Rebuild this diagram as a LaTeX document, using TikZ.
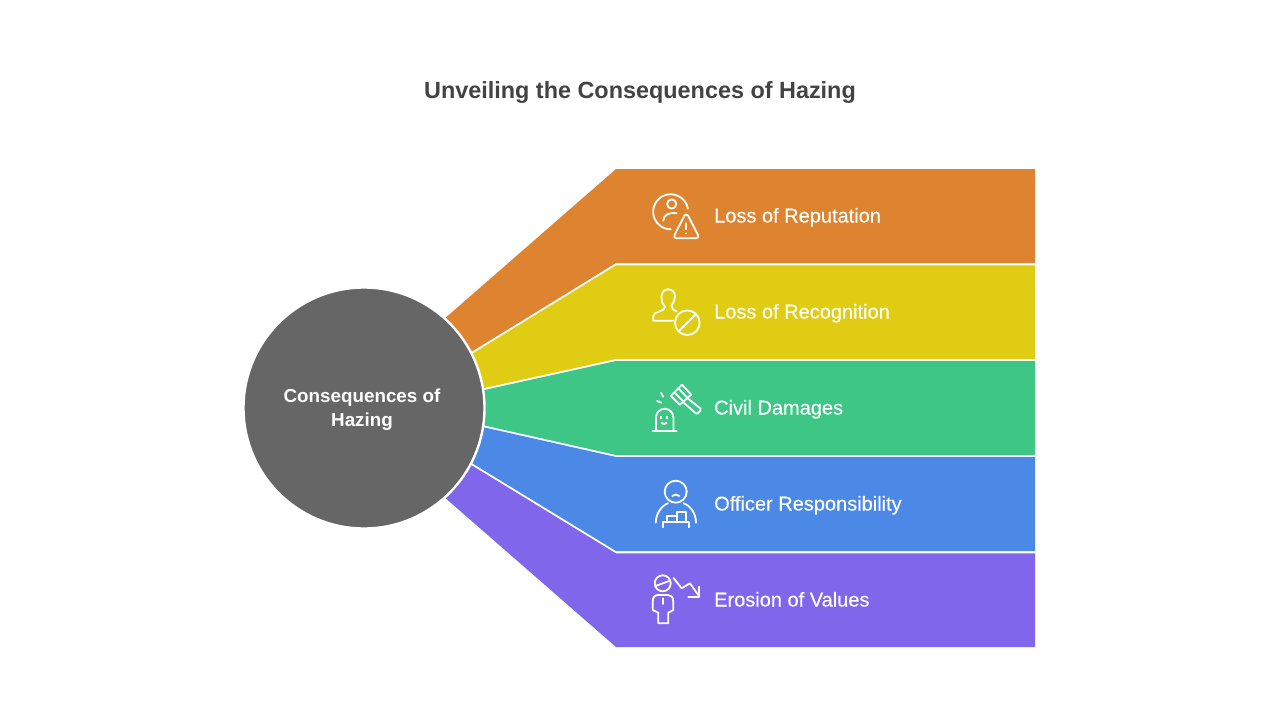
\documentclass[tikz,border=0pt]{standalone}
\usepackage{fontspec}
\setmainfont{Liberation Sans}
\newfontfamily\medfont[FakeBold=0.25]{Liberation Sans}
\definecolor{cOrange}{HTML}{DE8431}
\definecolor{cYellow}{HTML}{E0CC12}
\definecolor{cGreen}{HTML}{3DC685}
\definecolor{cBlue}{HTML}{4C88E6}
\definecolor{cPurple}{HTML}{7F66EA}
\definecolor{cHub}{HTML}{666666}
\definecolor{cTitle}{HTML}{434343}
\tikzset{
  band/.style={fill=#1,draw=none},
  hub/.style={circle,fill=cHub,draw=white,line width=2.4pt,minimum size=241pt,inner sep=0pt},
  hubtext/.style={align=center,text=white,inner sep=0pt,font=\fontsize{18.8}{24}\selectfont\bfseries},
  lbl/.style={anchor=base west,text=white,inner sep=0pt,font=\fontsize{20}{24}\selectfont\medfont},
  ttl/.style={text=cTitle,inner sep=0pt,font=\fontsize{23.4}{28}\selectfont\bfseries},
  ico/.style={draw=white,line width=1.8pt,line cap=round,line join=round,fill=none}
}
\begin{document}
\begin{tikzpicture}[x=1pt,y=-1pt]
\useasboundingbox (0,0) rectangle (1280,720);
\fill[white] (0,0) rectangle (1280,720);
\node[ttl] (title) at (640,93) {Unveiling the Consequences of Hazing};
% bands
\fill[band=cOrange] (380,375) -- (616,169) -- (1035,169) -- (1035,263) -- (616,263) -- (380,408) -- cycle;
\fill[band=cYellow] (380,410.4) -- (616,265.4) -- (1035,265.4) -- (1035,359) -- (616,359) -- (380,411) -- cycle;
\fill[band=cGreen] (380,413) -- (616,361) -- (1035,361) -- (1035,455) -- (616,455) -- (380,402) -- cycle;
\fill[band=cBlue] (380,404) -- (616,457) -- (1035,457) -- (1035,551) -- (616,551) -- (380,407) -- cycle;
\fill[band=cPurple] (380,409.4) -- (616,553.4) -- (1035,553.4) -- (1035,647) -- (616,647) -- (380,441) -- cycle;
\node[hub] (hub) at (364,408) {};
\node[hubtext] (hublabel) at (362,410) {Consequences of\\Hazing};
% labels
\node[lbl] (l1) at (714,222.5) {Loss of Reputation};
\node[lbl] (l2) at (714,318.5) {Loss of Recognition};
\node[lbl] (l3) at (714,414.5) {Civil Damages};
\node[lbl] (l4) at (714,510.5) {Officer Responsibility};
\node[lbl] (l5) at (714,606.5) {Erosion of Values};
% icon 1
\draw[ico] (687.9,208.7) arc[start angle=-10,end angle=-270,radius=17.5];
\draw[ico] (671.7,204) circle[radius=4.6];
\draw[ico] (663.3,220.7) .. controls (663.5,215) and (669,212) .. (676.7,213.3);
\draw[ico] (684.5,215.5) -- (674.5,235) .. controls (673.8,237) and (674.5,238.3) .. (676.5,238.3) -- (696,238.3) .. controls (698,238.3) and (698.7,237) .. (698,235) -- (688,215.5) .. controls (687,214) and (685.5,214) .. (684.5,215.5) -- cycle;
\draw[ico] (686,223.3) -- (686,229.3);
\draw[ico] (686,233.3) -- (686,233.5);
% icon 2
\draw[ico] (673.3,320.7) -- (653.3,320.7) -- (653.3,316) .. controls (653.3,311) and (665,312) .. (665,307) .. controls (662,303) and (661,300) .. (661.5,296.5) .. controls (662,291.5) and (665,289.3) .. (668.3,289.3) .. controls (672,289.3) and (675,292) .. (675,296.5) .. controls (675,300) and (673,303) .. (671.5,306) .. controls (671.5,309) and (674,310.5) .. (676.7,311.5);
\draw[ico] (687.3,322.7) circle[radius=12.3];
\draw[ico] (678.6,331.4) -- (696,314);
% icon 3
\draw[ico] (652.7,430.7) -- (676.7,430.7);
\draw[ico] (656,430) -- (656,417.5) arc[start angle=180,end angle=360,radius=8.7] -- (673.4,430);
\draw[ico] (660.7,416.7) -- (660.7,418.5);
\draw[ico] (666.7,416.7) -- (666.7,418.5);
\draw[ico] (661.5,422.5) .. controls (662.5,425) and (665.5,425) .. (666.5,422.5);
\draw[ico] (661,392.7) -- (663,396.7);
\draw[ico] (657,401) -- (661.3,402.7);
\draw[ico] (682,384.7) -- (691.3,394.7) -- (679.7,404.7) -- (670.7,396) -- cycle;
\draw[ico] (678.2,388) -- (687.5,398);
\draw[ico] (674.5,392.5) -- (683.8,402);
\draw[ico] (688,398.7) -- (700.5,408.5) .. controls (701.5,410) and (698,414.5) .. (696,413.5) -- (683.5,402.5);
% icon 4
\draw[ico] (675.7,491.7) circle[radius=11];
\draw[ico] (672.3,496) .. controls (674,494) and (677.5,494) .. (679.3,496);
\draw[ico] (655.7,522.7) .. controls (656,512) and (663,505) .. (668,503.3);
\draw[ico] (683.5,503.3) .. controls (689,505) and (696,512) .. (696,522.7);
\draw[ico] (662.7,527.3) -- (662.7,521.7) -- (689.3,521.7) -- (689.3,527.3);
\draw[ico] (667.3,521.7) -- (667.3,515.7) -- (677.3,515.7);
\draw[ico] (677.3,521.7) -- (677.3,511.7) -- (686,511.7) -- (686,521.7);
% icon 5
\draw[ico] (662.7,583.3) circle[radius=8];
\draw[ico] (655.5,586) -- (670,580.7);
\draw[ico] (658.3,623.3) -- (658.3,612.7) -- (652.7,610) -- (652.7,601.7) .. controls (652.7,597) and (655,595) .. (658.3,595) -- (668.3,595) .. controls (671,595) and (673.3,597) .. (673.3,601.7) -- (673.3,610) -- (668.3,612.7) -- (668.3,623.3) -- cycle;
\draw[ico] (662.7,598.3) -- (662.7,604);
\draw[ico] (673.5,578) -- (681.7,588.3) -- (690,583.3) -- (699.3,596.5);
\draw[ico] (699.3,586.7) -- (699.3,596.7) -- (688.3,596.7);
\end{tikzpicture}
\end{document}
